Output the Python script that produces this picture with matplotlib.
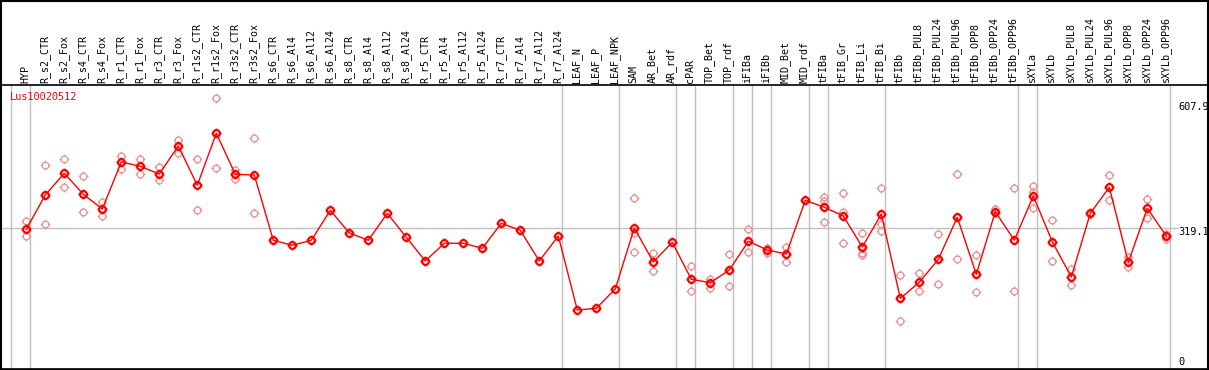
import matplotlib
matplotlib.use('Agg')
import matplotlib.pyplot as plt
from matplotlib.path import Path
from matplotlib.patches import Rectangle

# sample labels, left to right
labels = ['HYP', 'R_s2_CTR', 'R_s2_Fox', 'R_s4_CTR', 'R_s4_Fox', 'R_r1_CTR', 'R_r1_Fox',
          'R_r3_CTR', 'R_r3_Fox', 'R_r1s2_CTR', 'R_r1s2_Fox', 'R_r3s2_CTR', 'R_r3s2_Fox',
          'R_s6_CTR', 'R_s6_Al4', 'R_s6_Al12', 'R_s6_Al24', 'R_s8_CTR', 'R_s8_Al4',
          'R_s8_Al12', 'R_s8_Al24', 'R_r5_CTR', 'R_r5_Al4', 'R_r5_Al12', 'R_r5_Al24',
          'R_r7_CTR', 'R_r7_Al4', 'R_r7_Al12', 'R_r7_Al24', 'LEAF_N', 'LEAF_P', 'LEAF_NPK',
          'SAM', 'AR_Bet', 'AR_rdf', 'cPAR', 'TOP_Bet', 'TOP_rdf', 'iFIBa', 'iFIBb',
          'MID_Bet', 'MID_rdf', 'tFIBa', 'tFIB_Gr', 'tFIB_Li', 'tFIB_Bi', 'tFIBb',
          'tFIBb_PUL8', 'tFIBb_PUL24', 'tFIBb_PUL96', 'tFIBb_OPP8', 'tFIBb_OPP24',
          'tFIBb_OPP96', 'sXYLa', 'sXYLb', 'sXYLb_PUL8', 'sXYLb_PUL24', 'sXYLb_PUL96',
          'sXYLb_OPP8', 'sXYLb_OPP24', 'sXYLb_OPP96']

# mean expression per sample
means = [316.3, 392.7, 441.0, 394.2, 361.5, 466.2, 456.6, 439.4, 501.8, 414.3, 530.1,
         438.8, 437.2, 291.8, 280.6, 291.8, 358.6, 308.0, 291.8, 351.9, 298.4, 245.7,
         285.1, 285.1, 273.9, 329.6, 314.0, 245.7, 301.3, 136.5, 140.3, 183.3, 319.2,
         243.4, 287.3, 204.9, 197.3, 225.6, 289.5, 270.2, 261.2, 380.8, 365.3, 345.9,
         276.8, 350.3, 162.6, 198.2, 249.4, 343.0, 216.0, 355.5, 291.8, 390.4, 288.6,
         210.0, 351.9, 409.8, 242.8, 363.0, 301.3]

# replicate values (sample index -> values)
reps = {
    0: [334.7, 300.7], 1: [458.8, 328.1], 2: [472.2, 409.8], 3: [434.3, 354.1],
    4: [377.1, 345.2], 5: [479.5, 450.6], 6: [472.2, 438.8], 7: [454.3, 425.4],
    8: [514.5, 485.5], 9: [472.2, 358.6], 10: [608.0, 452.1], 11: [448.3, 428.3],
    12: [518.9, 351.9],
    32: [385.3, 308.7, 265.0], 33: [263.5, 222.7], 35: [234.5, 178.8],
    36: [206.2, 186.2], 37: [260.6, 189.3], 38: [316.3, 265.0], 39: [273.9, 264.1],
    40: [276.8, 244.1], 42: [388.9, 380.0, 331.9], 43: [396.4, 354.8, 285.1],
    44: [307.4, 262.8, 259.7], 45: [407.6, 328.1, 311.8], 46: [214.5, 111.4],
    47: [218.3, 178.2], 48: [305.1, 193.8], 49: [438.8, 249.4], 50: [258.4, 176.6],
    51: [362.1, 351.9], 52: [407.6, 178.2], 53: [412.7, 399.3, 363.0],
    54: [336.3, 245.0], 55: [228.5, 191.5], 56: [353.2, 350.3], 57: [436.5, 380.8],
    58: [255.2, 233.0], 59: [383.1, 342.1], 60: [305.8, 295.3],
}

# last sample index of each group (vertical separators)
group_ends = [-1, 0, 28, 31, 34, 35, 37, 38, 39, 41, 42, 45, 52, 53, 60]

gene = 'Lus10020512'
ymax_label = 607.9
ymid_label = 319.1

# circle with four small ticks, like the original markers
circ = Path.unit_circle()
ticks = Path([(0, 1), (0, 1.45), (0, -1), (0, -1.45), (1, 0), (1.45, 0), (-1, 0), (-1.45, 0)],
             [Path.MOVETO, Path.LINETO] * 4)
mk = Path.make_compound_path(circ, ticks)

W, H = 1209, 370
fig = plt.figure(figsize=(W / 100, H / 100), dpi=100)
ax = fig.add_axes([1 / W, 1 / H, 1207 / W, 284 / H])

x = list(range(len(labels)))
ax.set_xlim((1 - 26.3) / 19, (1208 - 26.3) / 19)
ax.set_ylim(5.1, 637.6)

for g in group_ends:
    ax.axvline(g + 0.21, color='#c0c0c0', lw=1, zorder=0)
ax.plot([(1 - 26.3) / 19, (1178 - 26.3) / 19], [ymid_label, ymid_label],
        color='#c0c0c0', lw=1, zorder=0)

for i, vals in reps.items():
    ax.plot([i] * len(vals), vals, linestyle='none', marker=mk, markersize=7,
            markerfacecolor='none', markeredgecolor='#e89a9a', markeredgewidth=1.0, zorder=2)

ax.plot(x, means, color='#ff0000', lw=1, marker=mk, markersize=7,
        markerfacecolor='none', markeredgecolor='#ff0000', markeredgewidth=1.6, zorder=3)

for sp in ax.spines.values():
    sp.set_color('black')
    sp.set_linewidth(1.2)
ax.set_xticks([])
ax.set_yticks([])

# sample names, rotated above the plot
for i, lab in enumerate(labels):
    fig.text((26.3 + 19 * i - 1) / W, 1 - 83 / H, lab, rotation=90, ha='center', va='bottom',
             family='DejaVu Sans Mono', fontsize=7.2, color='black')

fig.text(10 / W, 1 - 97 / H, gene, ha='left', va='center', family='DejaVu Sans Mono',
         fontsize=7.4, color='red')

for val, ypx in [(ymax_label, 107), (ymid_label, 232), (0, 362)]:
    fig.text(1178 / W, 1 - ypx / H, ('%g' % val), ha='left', va='center',
             family='DejaVu Sans Mono', fontsize=7.4, color='black')

# outer frame of the whole picture
fig.patches.append(Rectangle((0.5 / W, 0.5 / H), 1 - 1.5 / W, 1 - 1.5 / H, transform=fig.transFigure,
                             fill=False, edgecolor='black', lw=1.5))

fig.savefig('out.png', dpi=100)
